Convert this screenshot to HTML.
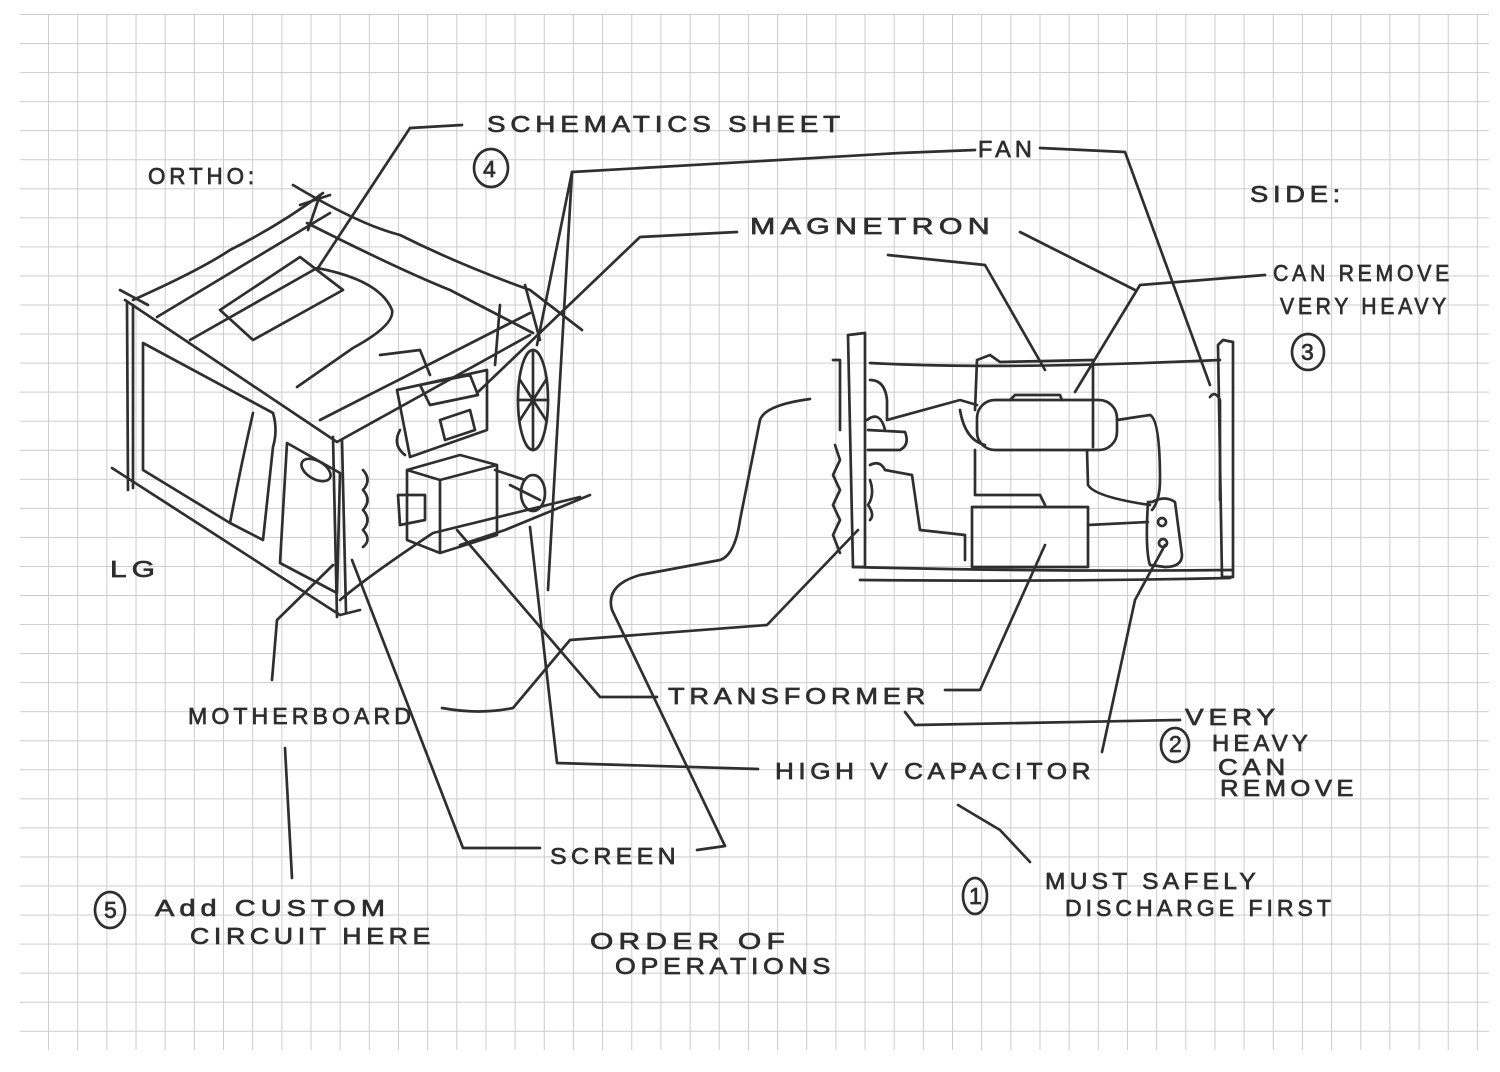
<!DOCTYPE html>
<html><head><meta charset="utf-8"><style>
html,body{margin:0;padding:0;background:#fff;}
svg{display:block;}
text{font-family:"Liberation Sans",sans-serif;fill:#2e2e2e;stroke:#2e2e2e;stroke-width:0.7;font-size:23px;letter-spacing:4px;}
</style></head><body>
<svg width="1500" height="1072" viewBox="0 0 1500 1072" xmlns="http://www.w3.org/2000/svg">
<defs>
<pattern id="g" x="18.9" y="14" width="29.16" height="29.05" patternUnits="userSpaceOnUse">
<path d="M0.5 0V29.05M0 0.5H29.16" stroke="#cccccc" stroke-width="1" fill="none"/>
</pattern>
</defs>
<rect width="1500" height="1072" fill="#fff"/>
<rect x="20" y="14" width="1470" height="1036" fill="url(#g)"/>
<rect x="1489" y="14" width="11" height="1058" fill="#fff"/>
<rect x="0" y="1051" width="1500" height="21" fill="#fff"/>
<g fill="none" stroke="#2f2f2f" stroke-width="2.7" stroke-linecap="round" stroke-linejoin="round">
<!-- microwave ortho -->
<path d="M133 300 Q200 270 230 250 Q280 225 323 193"/>
<path d="M157 317 L330 213"/>
<path d="M293 185 Q360 225 400 235 Q460 265 530 290 L582 330"/>
<path d="M307 223 Q400 270 450 290 L533 333"/>
<path d="M320 195 L308 230 M330 195 L300 205"/>
<path d="M120 290 L148 305"/>
<path d="M125 300 L337 442 L530 335"/>
<path d="M127 303 L128 490 M133 305 L133 488"/>
<path d="M112 468 L340 615 L360 610"/>
<path d="M333 437 L337 617 M342 440 L346 612"/>
<path d="M143 343 L273 413 Q278 430 273 447 L263 540 L230 523 L143 470 Z"/>
<path d="M253 413 Q240 470 230 523"/>
<path d="M287 443 L340 473 L337 593 L280 563 Z"/>
<ellipse cx="316" cy="470" rx="16" ry="9" transform="rotate(30 316 470)"/>
<path d="M220 310 L300 257 L343 290 L253 340 Z"/>
<path d="M190 340 L317 268 Q380 280 392 310 Q395 325 353 348 L297 387"/>
<path d="M340 600 Q370 575 433 533 L580 497"/>
<path d="M363 470 Q372 480 363 490 Q372 500 363 510 Q372 520 363 530 Q372 540 363 547"/>
<path d="M320 420 L530 313"/>
<path d="M397 390 L487 370 L487 430 L410 457 Z M397 390 L410 457 M420 385 L470 375 L478 395 L430 405 Z M440 420 L470 410 L475 430 L445 440 Z"/>
<path d="M380 355 L420 350 L430 375 M400 430 Q392 445 405 455"/>
<path d="M407 470 L460 455 L497 465 L497 535 L440 553 L407 540 Z M407 470 L440 480 L440 553 M440 480 L497 465"/>
<path d="M398 495 L425 495 L425 520 L400 525 Z"/>
<ellipse cx="533" cy="400" rx="15" ry="50"/>
<path d="M533 350 L533 450 M520 380 L546 420 M520 420 L546 380 M518 400 L548 400"/>
<ellipse cx="533" cy="493" rx="12" ry="18"/>
<path d="M510 485 L540 500 M495 470 L525 480"/>
<path d="M590 495 L505 530 L460 545"/>
<path d="M500 305 L495 365 M525 285 L540 340"/>
<!-- side view -->
<path d="M848 335 L865 333 L865 567 L853 567 Z"/>
<path d="M833 360 L840 360 L840 430 M835 445 L840 460 L833 475 L840 490 L833 505 L840 520 L833 535 L840 553"/>
<path d="M870 363 Q1000 370 1220 360"/>
<path d="M853 567 Q1050 572 1233 570 M860 580 Q1050 582 1230 578"/>
<path d="M1218 345 L1223 340 L1233 342 L1233 577 L1222 577 Z"/>
<path d="M1210 397 Q1215 390 1220 400 L1220 500"/>
<path d="M977 360 L990 355 L1000 362 L1093 360 L1093 447 M977 360 L975 410"/>
<rect x="977" y="400" width="140" height="50" rx="18"/>
<path d="M1010 400 L1015 395 L1060 395 L1062 400"/>
<path d="M870 380 Q885 380 887 400 L887 420 L960 400 L977 405 M960 410 Q965 440 985 445"/>
<path d="M1117 420 L1150 415 Q1160 420 1160 480 Q1160 500 1152 510 M1087 450 L1088 485 Q1095 497 1150 505"/>
<path d="M975 450 L975 495 L1040 495 L1045 505"/>
<rect x="972" y="507" width="116" height="60"/>
<path d="M1088 525 L1148 522"/>
<path d="M1152 502 Q1165 495 1175 502 L1182 555 Q1182 567 1165 567 L1150 565 Q1145 550 1148 502 Z"/>
<circle cx="1162" cy="522" r="4"/><circle cx="1163" cy="543" r="4"/>
<path d="M867 420 Q880 410 885 430 M868 430 L905 432 Q910 445 900 450 L868 450 M870 465 Q880 460 885 470 L912 475 L920 530 L965 535 L965 560"/>
<path d="M870 480 Q875 495 868 505 Q875 515 870 520"/>
<!-- leader lines -->
<path d="M462 125 L410 128 L318 268"/>
<path d="M975 150 L900 153 L572 172 L548 590"/>
<path d="M572 172 L537 345"/>
<path d="M1040 148 L1125 152 L1210 385"/>
<path d="M737 232 L640 237 L477 393"/>
<path d="M888 255 L985 265 L1045 370"/>
<path d="M1020 232 L1135 290"/>
<path d="M1265 275 L1140 285 L1075 392"/>
<path d="M457 530 L600 697 L657 697"/>
<path d="M945 690 L980 690 L1045 545"/>
<path d="M905 712 L915 725 L1180 720"/>
<path d="M442 708 Q480 715 513 708 L570 640 L767 625 L858 530"/>
<path d="M272 680 L277 620 L333 565"/>
<path d="M285 748 L292 878"/>
<path d="M540 848 L463 848 L352 560"/>
<path d="M697 850 L725 846 L612 610 Q605 585 640 575 L720 560 Q735 555 740 520 L760 420 Q765 405 810 399"/>
<path d="M758 769 L557 763 L530 527"/>
<path d="M1102 752 L1135 600 L1165 545"/>
<path d="M958 805 L1000 830 L1030 862"/>
<!-- number circles -->
<ellipse cx="491" cy="168" rx="17" ry="19"/>
<ellipse cx="1308" cy="352" rx="16" ry="18"/>
<ellipse cx="1175" cy="745" rx="14" ry="17"/>
<ellipse cx="975" cy="896" rx="12" ry="18"/>
<ellipse cx="110" cy="910" rx="15" ry="18"/>
</g>
<g>
<text x="487" y="132" textLength="358" lengthAdjust="spacingAndGlyphs">SCHEMATICS  SHEET</text>
<text x="148" y="184" textLength="110" lengthAdjust="spacingAndGlyphs">ORTHO:</text>
<text x="483" y="177" font-size="20">4</text>
<text x="978" y="157" textLength="58" lengthAdjust="spacingAndGlyphs">FAN</text>
<text x="1250" y="202" textLength="95" lengthAdjust="spacingAndGlyphs">SIDE:</text>
<text x="750" y="234" textLength="245" lengthAdjust="spacingAndGlyphs">MAGNETRON</text>
<text x="1273" y="281" textLength="180" lengthAdjust="spacingAndGlyphs">CAN REMOVE</text>
<text x="1280" y="314" textLength="170" lengthAdjust="spacingAndGlyphs">VERY HEAVY</text>
<text x="1301" y="360" font-size="20">3</text>
<text x="110" y="577" textLength="50" lengthAdjust="spacingAndGlyphs">LG</text>
<text x="668" y="704" textLength="262" lengthAdjust="spacingAndGlyphs">TRANSFORMER</text>
<text x="188" y="724" textLength="227" lengthAdjust="spacingAndGlyphs">MOTHERBOARD</text>
<text x="1185" y="725" textLength="95" lengthAdjust="spacingAndGlyphs">VERY</text>
<text x="1212" y="751" textLength="100" lengthAdjust="spacingAndGlyphs">HEAVY</text>
<text x="1218" y="775" textLength="72" lengthAdjust="spacingAndGlyphs">CAN</text>
<text x="1220" y="796" textLength="138" lengthAdjust="spacingAndGlyphs">REMOVE</text>
<text x="1169" y="752" font-size="18">2</text>
<text x="775" y="779" textLength="320" lengthAdjust="spacingAndGlyphs">HIGH V  CAPACITOR</text>
<text x="550" y="864" textLength="130" lengthAdjust="spacingAndGlyphs">SCREEN</text>
<text x="104" y="918" font-size="20">5</text>
<text x="155" y="916" textLength="235" lengthAdjust="spacingAndGlyphs">Add  CUSTOM</text>
<text x="190" y="944" textLength="245" lengthAdjust="spacingAndGlyphs">CIRCUIT HERE</text>
<text x="1045" y="889" textLength="215" lengthAdjust="spacingAndGlyphs">MUST   SAFELY</text>
<text x="1065" y="916" textLength="270" lengthAdjust="spacingAndGlyphs">DISCHARGE  FIRST</text>
<text x="969" y="904" font-size="20">1</text>
<text x="590" y="949" textLength="200" lengthAdjust="spacingAndGlyphs">ORDER   OF</text>
<text x="615" y="974" textLength="220" lengthAdjust="spacingAndGlyphs">OPERATIONS</text>
</g>
</svg>
</body></html>
